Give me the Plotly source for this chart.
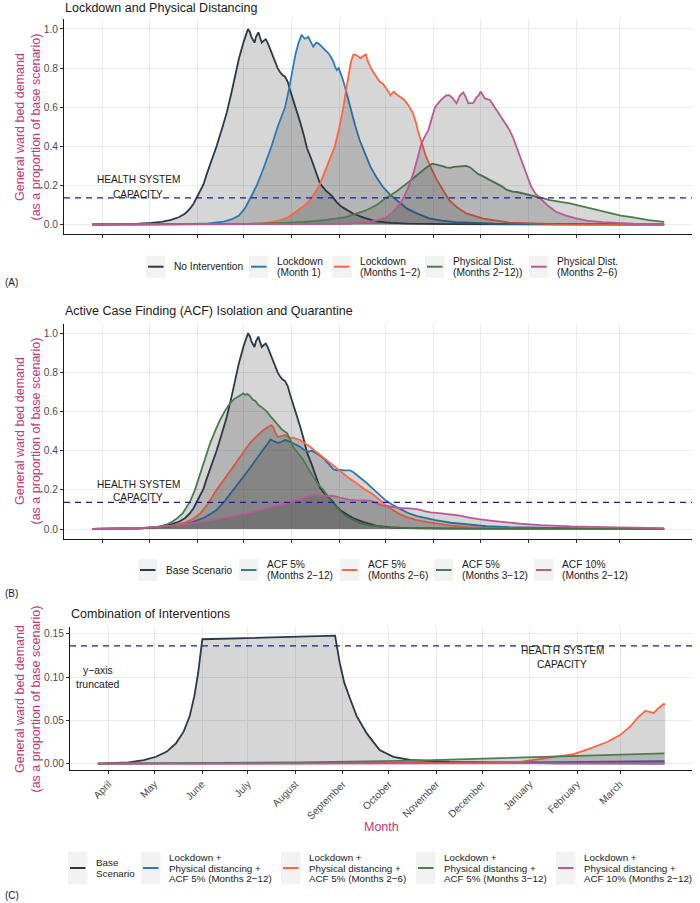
import pandas as pd
import plotly.graph_objects as go

# ---------------- data (day offsets from 2020-03-25, values) ----------------
START = pd.Timestamp("2020-03-25")
MONTH_TICKS = ["2020-04-01", "2020-05-01", "2020-06-01", "2020-07-01", "2020-08-01", "2020-09-01",
               "2020-10-01", "2020-11-01", "2020-12-01", "2021-01-01", "2021-02-01", "2021-03-01"]
MONTH_LABELS = ["April", "May", "June", "July", "August", "September",
                "October", "November", "December", "January", "February", "March"]
CAPACITY = 0.136

base_days = [0, 10, 20, 30, 38, 45, 51, 56, 60, 63, 65.5, 68.2, 70, 72, 74, 77, 80.5, 84, 87, 90, 92.5, 95,
             97.8, 99.5, 100.8, 102, 103, 105, 106, 107.5, 108.5, 109.7, 111, 112.3, 113.5, 115, 117, 118.3,
             120, 121.5, 123, 124.8, 126.5, 128, 130, 132.3, 134.5, 136.6, 139, 142, 144.5, 147.4, 151, 154.9,
             158, 161, 164.7, 169, 175.6, 184, 193, 204, 230, 260, 300, 370]
base_vals = [0, 0.0005, 0.0015, 0.004, 0.008, 0.014, 0.0235, 0.037, 0.055, 0.078, 0.105, 0.1437, 0.17, 0.205,
             0.255, 0.32, 0.40, 0.49, 0.57, 0.67, 0.76, 0.85, 0.93, 0.975, 1.0, 0.985, 0.96, 0.93, 0.96, 0.983,
             0.96, 0.93, 0.94, 0.947, 0.93, 0.90, 0.86, 0.833, 0.80, 0.78, 0.765, 0.756, 0.73, 0.688, 0.64,
             0.586, 0.525, 0.466, 0.39, 0.33, 0.27, 0.21, 0.175, 0.1478, 0.116, 0.093, 0.075, 0.055, 0.035,
             0.0158, 0.008, 0.0043, 0.002, 0.001, 0.0005, 0.0002]

lock1_days = [0, 40, 60, 75, 85, 90, 95, 99, 102, 104.5, 106.5, 110, 113, 116, 120, 124.8, 127.5, 129.7, 131.5,
              133.4, 135.5, 136.5, 137.6, 139, 139.8, 141, 143, 145, 146.5, 148.5, 150.5, 152.8, 154.5, 156,
              157, 158.2, 159.5, 160.5, 162, 163.5, 165, 166.8, 170, 173, 176.5, 180, 184, 188, 193, 199, 204,
              210, 218, 226, 235, 260, 300, 370]
lock1_vals = [0, 0.0005, 0.002, 0.006, 0.015, 0.026, 0.046, 0.085, 0.13, 0.17, 0.2, 0.27, 0.33, 0.4, 0.5, 0.6,
              0.7, 0.8, 0.87, 0.927, 0.97, 0.96, 0.95, 0.955, 0.96, 0.94, 0.91, 0.93, 0.925, 0.91, 0.895, 0.876,
              0.855, 0.833, 0.81, 0.79, 0.8, 0.78, 0.745, 0.705, 0.66, 0.6, 0.51, 0.432, 0.36, 0.296, 0.24,
              0.193, 0.15, 0.11, 0.08, 0.057, 0.032, 0.02, 0.012, 0.004, 0.001, 0.0002]

lock12_days = [0, 80, 100, 111, 120, 127, 132, 137, 141, 144, 147, 150, 153, 157, 160, 162.5, 164.5, 166, 167.5,
               169, 170.5, 172, 173.5, 175.5, 177, 178.5, 181, 183.5, 186, 188, 190, 193, 195, 197, 199, 202,
               204.5, 207.5, 209.5, 211, 213.5, 216, 219.5, 223, 227, 231, 236, 242, 253, 270, 300, 370]
lock12_vals = [0, 0.0005, 0.002, 0.006, 0.018, 0.038, 0.065, 0.095, 0.125, 0.16, 0.2, 0.26, 0.32, 0.4, 0.5, 0.6,
               0.7, 0.78, 0.835, 0.87, 0.868, 0.86, 0.85, 0.862, 0.87, 0.83, 0.79, 0.76, 0.73, 0.72, 0.70, 0.66,
               0.68, 0.665, 0.655, 0.637, 0.61, 0.57, 0.52, 0.47, 0.41, 0.347, 0.285, 0.228, 0.175, 0.125,
               0.088, 0.057, 0.03, 0.01, 0.002, 0.0003]

pd212_days = [0, 60, 100, 120, 137.6, 150, 164, 177, 184, 190, 197, 203.5, 211, 216, 220, 223, 226, 229, 231.5,
              234, 237, 240, 242, 244.5, 247, 249.7, 252, 255, 258, 261.6, 265, 268, 272, 275.5, 279, 283, 287.5,
              292, 296, 300, 304.6, 309, 313, 317, 322, 328, 335, 342, 350, 360, 370]
pd212_vals = [0, 0.0008, 0.003, 0.007, 0.013, 0.022, 0.038, 0.072, 0.1, 0.135, 0.17, 0.21, 0.26, 0.29, 0.311,
              0.307, 0.3, 0.292, 0.29, 0.295, 0.298, 0.30, 0.3, 0.292, 0.275, 0.258, 0.25, 0.238, 0.225, 0.212,
              0.195, 0.178, 0.168, 0.165, 0.159, 0.152, 0.142, 0.134, 0.125, 0.12, 0.116, 0.108, 0.1, 0.092,
              0.082, 0.07, 0.057, 0.046, 0.036, 0.022, 0.013]

pd26_days = [0, 150, 165, 178, 185, 190, 194, 197, 201, 204.5, 207.7, 210.5, 213, 215.5, 217.5, 219.5, 221.8,
             223.7, 226, 229, 231, 233, 235.7, 237.9, 240, 241.8, 243.3, 246.5, 248.6, 250, 251.2, 252.5, 254,
             257.3, 259.5, 261.6, 264, 266, 270, 272.5, 274.5, 277, 279, 281.5, 284, 287, 290.7, 295, 300, 306,
             313, 320, 330, 350, 370]
pd26_vals = [0, 0.001, 0.004, 0.012, 0.022, 0.035, 0.06, 0.085, 0.13, 0.19, 0.26, 0.34, 0.415, 0.455, 0.483,
             0.54, 0.60, 0.62, 0.64, 0.66, 0.662, 0.648, 0.62, 0.66, 0.675, 0.65, 0.62, 0.622, 0.65, 0.66, 0.68,
             0.665, 0.645, 0.637, 0.61, 0.58, 0.555, 0.526, 0.483, 0.44, 0.398, 0.345, 0.296, 0.245, 0.193,
             0.155, 0.125, 0.095, 0.065, 0.047, 0.032, 0.02, 0.012, 0.004, 0.001]

acf212_days = [0, 32, 50, 65, 73, 80.5, 86, 91.4, 97, 102, 106.5, 110.8, 113.5, 115.5, 117, 118.3, 120, 121.5,
               123, 124.8, 126.5, 128, 130, 132, 134.5, 137, 139.8, 142, 145, 147.5, 150.6, 152.5, 154, 156,
               158, 160.5, 163, 166.8, 169, 171, 174, 177.6, 181, 184, 187, 190, 194, 199, 204, 210, 216, 222,
               232, 243, 255, 270, 300, 330, 370]
acf212_vals = [0, 0.003, 0.012, 0.035, 0.06, 0.097, 0.145, 0.2, 0.255, 0.31, 0.36, 0.404, 0.435, 0.458, 0.45,
               0.446, 0.44, 0.442, 0.45, 0.455, 0.45, 0.445, 0.44, 0.43, 0.42, 0.405, 0.395, 0.4, 0.387, 0.375,
               0.353, 0.335, 0.318, 0.305, 0.30, 0.302, 0.3, 0.30, 0.29, 0.278, 0.26, 0.235, 0.21, 0.188, 0.165,
               0.145, 0.125, 0.102, 0.083, 0.066, 0.055, 0.045, 0.032, 0.022, 0.014, 0.009, 0.004, 0.002, 0.001]

acf26_days = [0, 32, 50, 60, 65, 70, 75, 80.5, 86, 91.4, 97, 102, 106.5, 110.8, 113.5, 116, 117.5, 118.5, 120.4,
              122, 123.5, 124.8, 126.5, 128, 130, 132, 134.5, 137.5, 141, 144, 147.4, 151, 154, 156, 158, 161,
              164.6, 167, 170, 173, 176, 179, 182, 185, 188, 190, 194, 198, 203, 210, 217, 230, 243, 260, 300,
              370]
acf26_vals = [0, 0.004, 0.015, 0.033, 0.05, 0.08, 0.13, 0.2, 0.26, 0.318, 0.38, 0.438, 0.475, 0.506, 0.52,
              0.531, 0.515, 0.49, 0.47, 0.473, 0.478, 0.48, 0.47, 0.463, 0.468, 0.46, 0.455, 0.44, 0.42, 0.40,
              0.378, 0.355, 0.336, 0.322, 0.31, 0.29, 0.267, 0.255, 0.24, 0.22, 0.205, 0.19, 0.175, 0.155,
              0.135, 0.12, 0.1, 0.08, 0.062, 0.045, 0.035, 0.02, 0.01, 0.004, 0.001, 0.0003]

acf312_days = [0, 32, 42, 48, 52, 55, 58.5, 61, 63.3, 66.5, 70, 73, 76.3, 79.5, 82.7, 86, 89.2, 92, 94.6, 96.5,
               97.8, 99, 100.5, 102, 104, 105.5, 107.5, 110, 113, 116, 119.4, 122.5, 126, 128, 130, 133, 136.6,
               140, 143, 146, 149.5, 152.5, 156, 159, 162, 165, 169, 174, 180, 190, 204, 230, 260, 370]
acf312_vals = [0, 0.003, 0.01, 0.022, 0.038, 0.055, 0.08, 0.11, 0.14, 0.2, 0.285, 0.36, 0.438, 0.5, 0.557,
               0.605, 0.642, 0.665, 0.676, 0.688, 0.693, 0.685, 0.69, 0.68, 0.66, 0.655, 0.634, 0.62, 0.6, 0.57,
               0.54, 0.51, 0.49, 0.46, 0.42, 0.39, 0.353, 0.305, 0.267, 0.23, 0.2, 0.165, 0.131, 0.105, 0.08,
               0.062, 0.045, 0.028, 0.018, 0.01, 0.005, 0.002, 0.001, 0.0001]

acf10_days = [0, 20, 32, 45, 58, 70, 85, 100, 113, 125, 132, 137.6, 141, 144, 146, 148, 150, 152, 155, 157, 160,
              163, 166, 170, 175, 180, 184, 188, 193, 198, 205, 211, 215, 219, 226, 233, 238, 243, 250, 259,
              268, 277, 290, 310, 340, 370]
acf10_vals = [0, 0.002, 0.005, 0.012, 0.022, 0.036, 0.056, 0.08, 0.105, 0.13, 0.148, 0.16, 0.168, 0.175, 0.173,
              0.17, 0.172, 0.167, 0.17, 0.168, 0.16, 0.155, 0.15, 0.148, 0.148, 0.145, 0.132, 0.12, 0.115, 0.108,
              0.105, 0.1, 0.092, 0.085, 0.08, 0.074, 0.068, 0.06, 0.05, 0.042, 0.034, 0.027, 0.02, 0.013, 0.008,
              0.005]

comb212_days = [0, 100, 200, 250, 300, 340, 370]
comb212_vals = [0, 0.0003, 0.0008, 0.0012, 0.0018, 0.0025, 0.003]

comb26_days = [0, 100, 200, 250, 273.6, 286.7, 299.8, 310.7, 321.6, 332.5, 341, 347.7, 353, 357.5, 359.7, 363,
               366, 369.5, 370.5]
comb26_vals = [0, 0.0001, 0.0003, 0.0008, 0.0016, 0.005, 0.008, 0.011, 0.0178, 0.025, 0.033, 0.043, 0.054,
               0.061, 0.06, 0.0585, 0.064, 0.069, 0.0685]

comb312_days = [0, 44.8, 88, 131, 164.7, 208, 251.8, 295.4, 339, 370]
comb312_vals = [0, 0.0003, 0.0008, 0.0016, 0.0023, 0.0035, 0.0058, 0.008, 0.0104, 0.012]

comb10_days = [0, 100, 200, 300, 370]
comb10_vals = [0, 0.0001, 0.0002, 0.0003, 0.0005]

C_LIMIT = 0.15  # y-axis truncation of panel C

LEG_A = ["No Intervention", "Lockdown\n(Month 1)", "Lockdown\n(Months 1−2)",
         "Physical Dist.\n(Months 2−12))", "Physical Dist.\n(Months 2−6)"]
LEG_B = ["Base Scenario", "ACF 5%\n(Months 2−12)", "ACF 5%\n(Months 2−6)",
         "ACF 5%\n(Months 3−12)", "ACF 10%\n(Months 2−12)"]
LEG_C = ["Base\nScenario",
         "Lockdown +\nPhysical distancing +\nACF 5% (Months 2−12)",
         "Lockdown +\nPhysical distancing +\nACF 5% (Months 2−6)",
         "Lockdown +\nPhysical distancing +\nACF 5% (Months 3−12)",
         "Lockdown +\nPhysical distancing +\nACF 10% (Months 2−12)"]

# ---------------- styling ----------------
W, H = 700, 903
FONT = "Liberation Sans"
COL = {"dark": "#2B3A48", "blue": "#2A7CB8", "orange": "#FF6542", "green": "#4C7D50", "pink": "#B95A94"}
ORDER = ["dark", "blue", "orange", "green", "pink"]
FILL = "rgba(51,51,51,0.2)"
YTITLE_COL = "#C83771"
TXT = "#4D4D4D"
FS = 10.2


def px(x):
    return x / W


def py(y):
    return 1 - y / H


def to_dates(days):
    return [START + pd.Timedelta(days=d) for d in days]


fig = go.Figure()


def add(days, vals, name, color, xa, ya):
    fig.add_trace(go.Scatter(
        x=to_dates(days), y=vals, name=name.replace("\n", " "), mode="lines",
        line=dict(color=color, width=1.8), fill="tozeroy", fillcolor=FILL,
        xaxis=xa, yaxis=ya, showlegend=False, hoverinfo="skip"))


# Panel A
for (d, v), nm, c in zip([(base_days, base_vals), (lock1_days, lock1_vals), (lock12_days, lock12_vals),
                          (pd212_days, pd212_vals), (pd26_days, pd26_vals)], LEG_A, ORDER):
    add(d, v, nm, COL[c], "x", "y")

# Panel B
for (d, v), nm, c in zip([(base_days, base_vals), (acf212_days, acf212_vals), (acf26_days, acf26_vals),
                          (acf312_days, acf312_vals), (acf10_days, acf10_vals)], LEG_B, ORDER):
    add(d, v, nm, COL[c], "x2", "y2")

# Panel C (values above the truncation limit are dropped, as in the original)
cb = [(d, v) for d, v in zip(base_days, base_vals) if v <= C_LIMIT]
for (d, v), nm, c in zip([([d for d, _ in cb], [v for _, v in cb]), (comb212_days, comb212_vals),
                          (comb26_days, comb26_vals), (comb312_days, comb312_vals), (comb10_days, comb10_vals)],
                         LEG_C, ORDER):
    add(d, v, nm, COL[c], "x3", "y3")

xrange = [START + pd.Timedelta(days=-18.2), START + pd.Timedelta(days=388)]

common_x = dict(type="date", range=xrange, tickvals=MONTH_TICKS, ticktext=MONTH_LABELS,
                ticks="outside", ticklen=3, tickcolor="#333333", tickwidth=1,
                showgrid=True, gridcolor="#EBEBEB", gridwidth=1.1,
                showline=True, linecolor="#1A1A1A", linewidth=1.1, zeroline=False, automargin=False,
                tickfont=dict(family=FONT, size=FS, color=TXT))
common_y = dict(ticks="outside", ticklen=3, tickcolor="#333333", tickwidth=1,
                showgrid=True, gridcolor="#EBEBEB", gridwidth=1.1,
                showline=True, linecolor="#1A1A1A", linewidth=1.1, zeroline=False, automargin=False,
                tickfont=dict(family=FONT, size=FS, color=TXT))

A_dom = [py(234.3), py(19.2)]
B_dom = [py(538.8), py(323.5)]
C_dom = [py(770.2), py(627.3)]

fig.update_layout(
    width=W, height=H, margin=dict(l=0, r=0, t=0, b=0, autoexpand=False),
    paper_bgcolor="white", plot_bgcolor="white", showlegend=False,
    font=dict(family=FONT, size=FS, color="#1A1A1A"),
    xaxis=dict(domain=[px(64), px(692)], anchor="y", showticklabels=False, **common_x),
    yaxis=dict(domain=A_dom, anchor="x", range=[-0.05, 1.05], tickvals=[0, 0.2, 0.4, 0.6, 0.8, 1.0],
               tickformat=".1f", **common_y),
    xaxis2=dict(domain=[px(64), px(692)], anchor="y2", showticklabels=False, **common_x),
    yaxis2=dict(domain=B_dom, anchor="x2", range=[-0.05, 1.05], tickvals=[0, 0.2, 0.4, 0.6, 0.8, 1.0],
                tickformat=".1f", **common_y),
    xaxis3=dict(domain=[px(70), px(692)], anchor="y3", showticklabels=True, tickangle=-45, **common_x),
    yaxis3=dict(domain=C_dom, anchor="x3", range=[-0.0075, 0.1575], tickvals=[0, 0.05, 0.10, 0.15],
                tickformat=".2f", **common_y),
)

# capacity lines
for xr, yr in [("x domain", "y"), ("x2 domain", "y2"), ("x3 domain", "y3")]:
    fig.add_shape(type="line", xref=xr, yref=yr, x0=0, x1=1, y0=CAPACITY, y1=CAPACITY,
                  line=dict(color="#1C1C99", width=1.3, dash="6px,5px"))


def ann(text, x, y, size=FS, color="#1A1A1A", xanchor="center", angle=0):
    fig.add_annotation(text=text, x=px(x), y=py(y), xref="paper", yref="paper", showarrow=False,
                       xanchor=xanchor, yanchor="middle", textangle=angle,
                       font=dict(family=FONT, size=size, color=color))


def lines_ann(text, x, yc, spacing, size=FS, xanchor="left", color="#1A1A1A"):
    parts = text.split("\n")
    n = len(parts)
    for i, t in enumerate(parts):
        ann(t, x, yc + (i - (n - 1) / 2) * spacing, size=size, xanchor=xanchor, color=color)


# manual ggplot-style legends: key box + line + label
def legend(labels, key_lefts, yc, key_h, size=FS, spacing=11):
    for lab, kl, c in zip(labels, key_lefts, ORDER):
        fig.add_shape(type="rect", xref="paper", yref="paper", x0=px(kl), x1=px(kl + 19.5),
                      y0=py(yc + key_h / 2), y1=py(yc - key_h / 2),
                      fillcolor="#F2F2F2", line=dict(width=0), layer="below")
        fig.add_shape(type="line", xref="paper", yref="paper", x0=px(kl + 2), x1=px(kl + 17.5),
                      y0=py(yc), y1=py(yc), line=dict(color=COL[c], width=2))
        lines_ann(lab, kl + 26, yc, spacing, size=size)


legend(LEG_A, [146, 249, 332, 425, 529], 266.7, 22)
legend(LEG_B, [138, 239, 340, 434, 534], 570, 22)
legend(LEG_C, [68, 141, 281, 416, 556], 868, 33, size=9.8, spacing=10.8)

# titles
ann("Lockdown and Physical Distancing", 63, 8, size=12.5, xanchor="left")
ann("Active Case Finding (ACF) Isolation and Quarantine", 63, 311, size=12.5, xanchor="left")
ann("Combination of Interventions", 69, 614, size=12.5, xanchor="left")

# y-axis titles
ytitle = "General ward bed demand<br>(as a proportion of base scenario)"
ann(ytitle, 27.5, 127, size=12.5, color=YTITLE_COL, angle=-90)
ann(ytitle, 27.5, 431, size=12.5, color=YTITLE_COL, angle=-90)
ann(ytitle, 27.5, 699, size=12.5, color=YTITLE_COL, angle=-90)
ann("Month", 381, 827, size=12.5, color=YTITLE_COL)

# capacity labels
lines_ann("HEALTH SYSTEM\nCAPACITY", 138, 187, 14, size=10.1, xanchor="center")
lines_ann("HEALTH SYSTEM\nCAPACITY", 138, 491, 14, size=10.1, xanchor="center")
lines_ann("HEALTH SYSTEM\nCAPACITY", 562, 657.5, 13.5, size=10.1, xanchor="center")
lines_ann("y−axis\ntruncated", 98, 677.5, 13.5, size=10.4, xanchor="center")

# panel tags
ann("(A)", 3, 282, size=10, xanchor="left")
ann("(B)", 3, 593, size=10, xanchor="left")
ann("(C)", 3, 895, size=10, xanchor="left")

fig.write_html("out.html", config={"displayModeBar": False},
               post_script="document.body.style.margin='0';document.body.style.overflow='hidden';")
